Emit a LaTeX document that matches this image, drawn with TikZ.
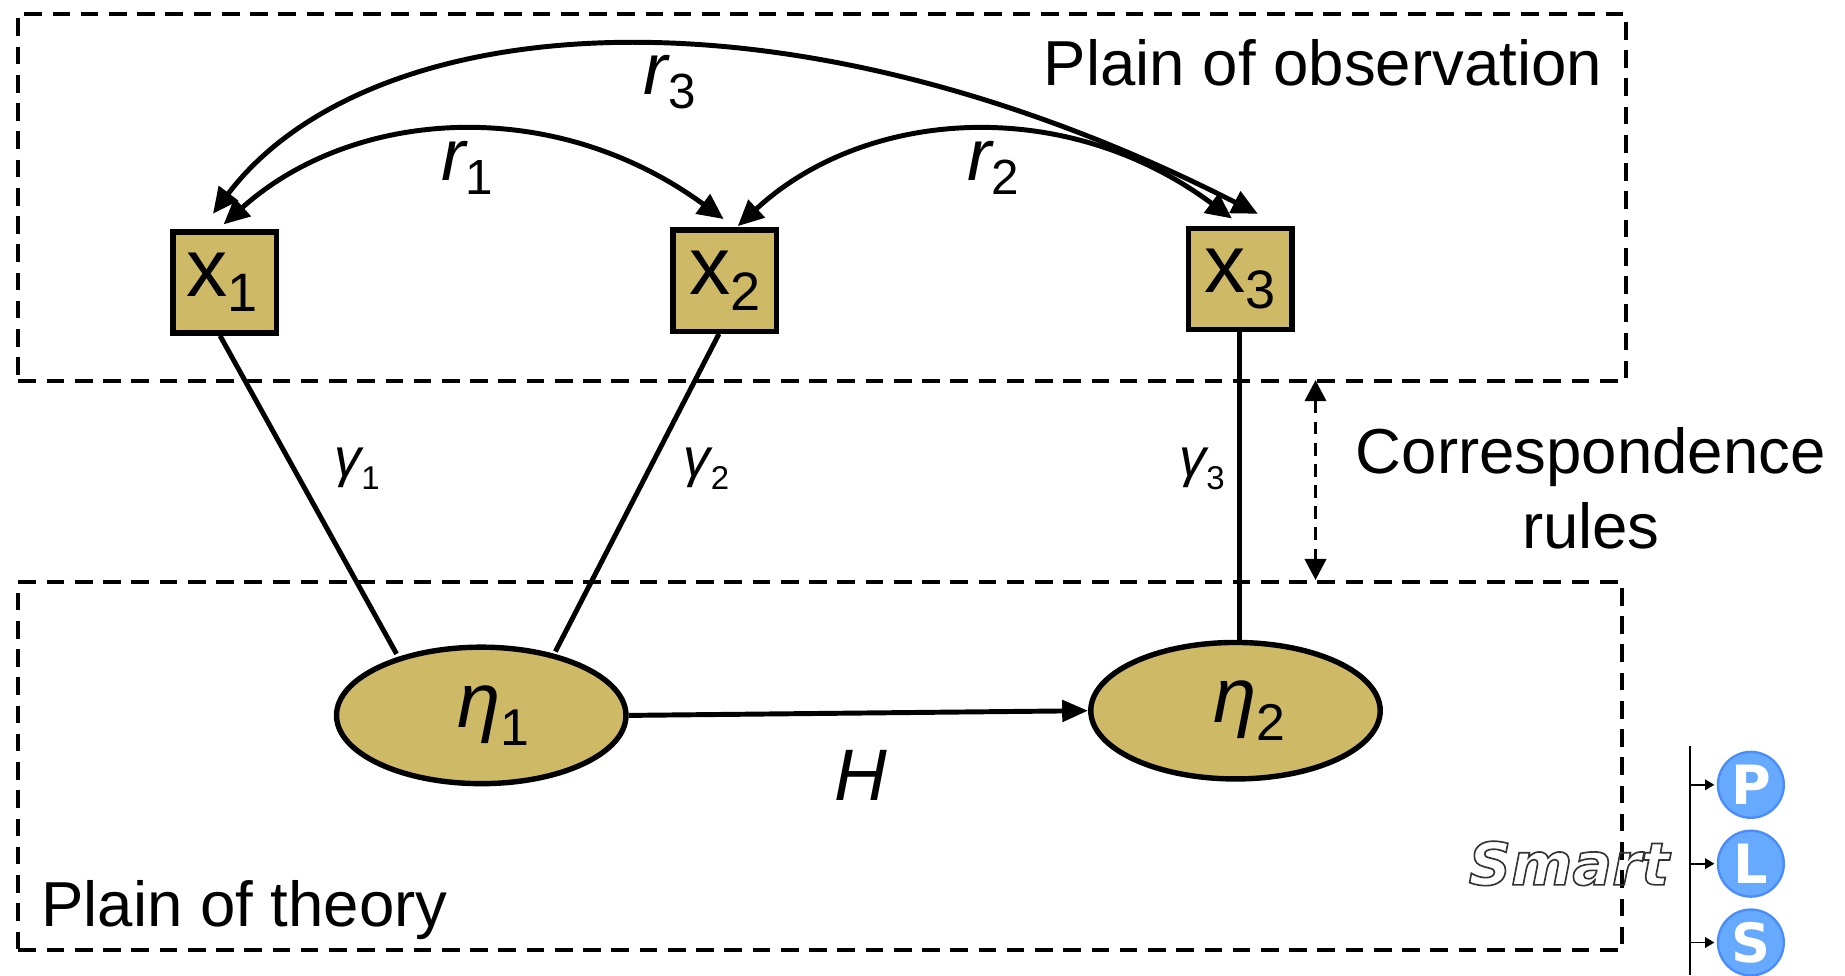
\documentclass[tikz,border=0pt]{standalone}
\usepackage{fontspec}
\setmainfont{Liberation Sans}
\newfontfamily\logofont{DejaVu Sans}
\usetikzlibrary{arrows.meta,shapes.geometric,calc}
\definecolor{khaki}{HTML}{CDB966}
\definecolor{pbfill}{HTML}{66AAFF}
\definecolor{pbline}{HTML}{4A8CFF}
\newcommand{\fsz}[1]{\fontsize{#1}{#1}\selectfont}
\newcommand{\sbs}[3]{{\fsz{#1}\raisebox{-#2pt}{#3}}}
\tikzset{
  x=1pt,y=-1pt,
  zone/.style={draw,line width=3.3pt,dash pattern=on 15pt off 9pt},
  obsbox/.style={draw,line width=4.6pt,fill=khaki,minimum width=88pt,minimum height=86pt,inner sep=0pt,font=\fsz{70}},
  latent/.style={draw,ellipse,line width=4.6pt,fill=khaki,minimum width=246pt,minimum height=116pt,inner sep=0pt,font=\fsz{66}\itshape},
  link/.style={line width=4.2pt},
  twoway/.style={line width=4.2pt,{Triangle[length=22pt,width=20pt]}-{Triangle[length=22pt,width=20pt]}},
  oneway/.style={line width=4.2pt,-{Triangle[length=22pt,width=18pt]}},
  band/.style={line width=3pt,dash pattern=on 11pt off 7pt,{Triangle[length=18pt,width=18pt]}-{Triangle[length=18pt,width=18pt]}},
  big/.style={font=\fsz{54},inner sep=0pt},
  coef/.style={font=\fsz{62}\itshape,inner sep=0pt,anchor=base west},
  load/.style={font=\fsz{46}\itshape,inner sep=0pt,anchor=base west},
  ball/.style={circle,draw=pbline,line width=2pt,fill=pbfill,minimum size=56pt,inner sep=0pt,text=white,font=\logofont\bfseries\fsz{46}},
  tick/.style={line width=1.6pt,-{Triangle[length=8pt,width=9pt]}},
}
\begin{document}
\begin{tikzpicture}
\path[use as bounding box] (0,0) rectangle (1568,829);
\node[zone,minimum width=1366pt,minimum height=312pt,anchor=north west,inner sep=0pt] (obs) at (14,10) {};
\node[zone,minimum width=1363pt,minimum height=313pt,anchor=north west,inner sep=0pt] (thy) at (14,493) {};

\node[obsbox] (x1) at (191,240) {\hspace*{-4pt}x\sbs{46}{13}{1}};
\node[obsbox] (x2) at (616,238.5) {\hspace*{0pt}x\sbs{46}{13}{2}};
\node[obsbox] (x3) at (1054,237) {\hspace*{0pt}x\sbs{46}{13}{3}};
\node[latent] (e1) at (409,608) {\hspace*{20pt}η\sbs{44}{15}{\upshape 1}};
\node[latent] (e2) at (1050,604) {\hspace*{24pt}η\sbs{44}{15}{\upshape 2}};

\draw[link] (x1.south) ++(-4,0) coordinate (a1) -- ($(e1.north)+(-72,8)$);
\draw[link] (x2.south) ++(-5,0) coordinate (a2) -- ($(e1.north)+(63,6)$);
\draw[link] ($(x3.south)+(-1,0)$) -- ($(e2.north)+(3,0)$);
\draw[oneway] (e1.east) -- (e2.west);

\coordinate (r1a) at ($(x1.north)+(-1,-4)$);
\coordinate (r1b) at ($(x2.north)+(-1,-7)$);
\coordinate (r2a) at ($(x2.north)+(11,-1)$);
\coordinate (r2b) at ($(x3.north)+(-7,-6)$);
\coordinate (r3a) at ($(x1.north)+(-10,-13)$);
\coordinate (r3b) at ($(x3.north)+(15,-10)$);
\draw[twoway] (r1a) .. controls (300,92) and (470,80) .. (r1b);
\draw[twoway] (r2a) .. controls (735,92) and (905,80) .. (r2b);
\draw[twoway] (r3a) .. controls (311,10) and (660,-26) .. (r3b);

\coordinate (ca) at (1118,323);
\coordinate (cb) at (1118,493);
\draw[band] (ca) -- (cb);

\node[big,anchor=base west] (t1) at (887,73) {Plain of observation};
\node[big,anchor=base west] (t2) at (35,787) {Plain of theory};
\node[big,align=center,font=\fsz{54}] (t3) at (1352,415) {Correspondence\\[10pt]rules};
\node[font=\fsz{62}\itshape,inner sep=0pt,anchor=base] (h) at (732,680) {H};

\node[coef] (r1) at (375,153) {r\sbs{42}{12}{\upshape 1}};
\node[coef] (r2) at (822,153) {r\sbs{42}{12}{\upshape 2}};
\node[coef] (r3) at (547,80) {r\sbs{42}{12}{\upshape 3}};
\node[load] (g1) at (284,405) {γ\sbs{28}{11}{\upshape 1}};
\node[load] (g2) at (581,405) {γ\sbs{28}{11}{\upshape 2}};
\node[load] (g3) at (1002,405) {γ\sbs{28}{11}{\upshape 3}};

\node[inner sep=0pt,anchor=base west,font=\logofont\bfseries\itshape\fsz{50}] (smart) at (1248,752)
  {\special{pdf:code 1 Tr 1.4 w 0.2 0.2 0.2 RG}Smart\special{pdf:code 0 Tr 0 0 0 RG}};
\coordinate (va) at (1436,634);
\coordinate (vb) at (1436,829);
\draw[line width=1.8pt] (va) -- (vb);
\node[ball] (p) at (1488,667) {P};
\node[ball] (l) at (1488,734) {L};
\node[ball] (s) at (1488,801) {S};
\draw[tick] (p -| va) -- ($(p.west)+(-2,0)$);
\draw[tick] (l -| va) -- ($(l.west)+(-2,0)$);
\draw[tick] (s -| va) -- ($(s.west)+(-2,0)$);
\end{tikzpicture}
\end{document}
